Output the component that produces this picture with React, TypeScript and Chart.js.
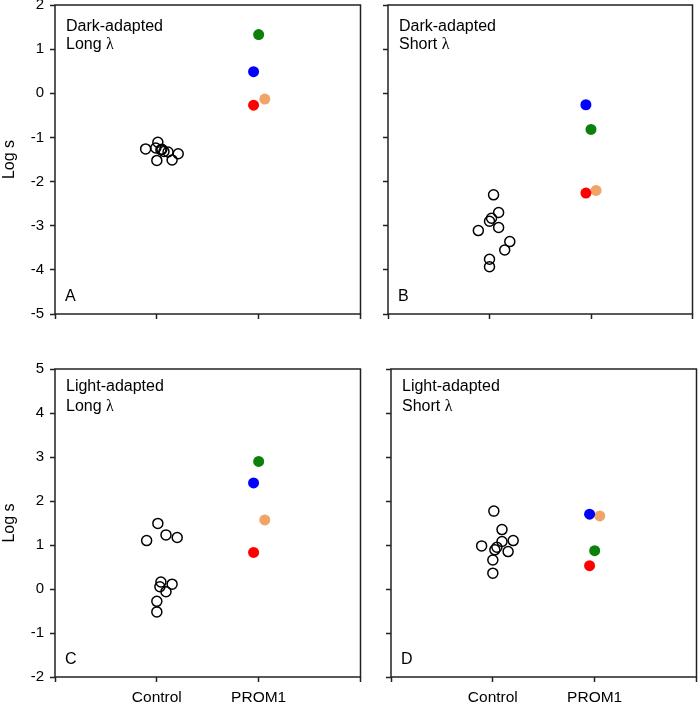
import React, { useEffect, useRef } from 'react';
import { Chart, registerables } from 'chart.js';

Chart.register(...registerables);
Chart.defaults.font.family = '"Liberation Sans", Arial, sans-serif';
Chart.defaults.color = '#000';

// ---------- data ----------
const categories = ['Control', 'PROM1'];
const prom1Colors = ['#0b800b', '#0000ff', '#ff0000', '#f0a468']; // green, blue, red, orange

// Panel A: Dark-adapted, Long λ
const ctrlAx = [0.89, 1.01, 0.99, 1.04, 1.07, 1.11, 1.21, 1.0, 1.15, 1.05];
const ctrlAy = [-1.26, -1.11, -1.24, -1.28, -1.32, -1.33, -1.37, -1.52, -1.51, -1.27];
const promAx = [2.0, 1.95, 1.95, 2.06];
const promAy = [1.33, 0.49, -0.27, -0.13];

// Panel B: Dark-adapted, Short λ
const ctrlBx = [1.04, 1.09, 1.02, 1.0, 1.09, 0.89, 1.2, 1.15, 1.0, 1.0];
const ctrlBy = [-2.3, -2.7, -2.83, -2.9, -3.04, -3.11, -3.36, -3.55, -3.76, -3.93];
const promBx = [2.0, 1.95, 1.95, 2.05];
const promBy = [-0.82, -0.26, -2.26, -2.2];

// Panel C: Light-adapted, Long λ
const ctrlCx = [1.01, 0.9, 1.09, 1.2, 1.04, 1.15, 1.03, 1.09, 1.0, 1.0];
const ctrlCy = [1.49, 1.1, 1.23, 1.17, 0.16, 0.11, 0.05, -0.06, -0.28, -0.52];
const promCx = [2.0, 1.95, 1.95, 2.06];
const promCy = [2.9, 2.41, 0.83, 1.57];

// Panel D: Light-adapted, Short λ
const ctrlDx = [1.01, 1.09, 0.89, 1.09, 1.2, 1.04, 1.02, 1.15, 1.0, 1.0];
const ctrlDy = [1.77, 1.35, 0.98, 1.08, 1.1, 0.95, 0.89, 0.85, 0.66, 0.36];
const promDx = [2.0, 1.95, 1.95, 2.05];
const promDy = [0.87, 1.7, 0.53, 1.66];

const topRange = [-5, 2];
const bottomRange = [-2, 5];
const xRange = [0, 3];

// ---------- layout ----------
const PAD_TOP = 20;
const PAD_RIGHT = 4;
const X_AXIS_H = 28;
const LINE = '#222';

type PanelCfg = {
  l: number; t: number; r: number; b: number;
  axisW: number; yLabels: boolean; xLabels: boolean;
  range: number[]; cx: number[]; cy: number[]; px: number[]; py: number[];
  line1: string; line2: string; letter: string; base1: number; gap: number;
};

const panels: PanelCfg[] = [
  { l: 55, t: 5, r: 363, b: 314, axisW: 55, yLabels: true, xLabels: false, range: topRange,
    cx: ctrlAx, cy: ctrlAy, px: promAx, py: promAy, line1: 'Dark-adapted', line2: 'Long ', letter: 'A', base1: 25.5, gap: 18.5 },
  { l: 388, t: 5, r: 695, b: 314, axisW: 20, yLabels: false, xLabels: false, range: topRange,
    cx: ctrlBx, cy: ctrlBy, px: promBx, py: promBy, line1: 'Dark-adapted', line2: 'Short ', letter: 'B', base1: 25.5, gap: 18.5 },
  { l: 55, t: 369, r: 363, b: 677, axisW: 55, yLabels: true, xLabels: true, range: bottomRange,
    cx: ctrlCx, cy: ctrlCy, px: promCx, py: promCy, line1: 'Light-adapted', line2: 'Long ', letter: 'C', base1: 22, gap: 19.5 },
  { l: 391, t: 369, r: 699, b: 677, axisW: 20, yLabels: false, xLabels: true, range: bottomRange,
    cx: ctrlDx, cy: ctrlDy, px: promDx, py: promDy, line1: 'Light-adapted', line2: 'Short ', letter: 'D', base1: 22, gap: 19.5 },
];

const framePlugin = {
  id: 'frameText',
  afterDraw(chart: any, _args: any, opts: any) {
    const { ctx, chartArea: a } = chart;
    ctx.save();
    ctx.strokeStyle = LINE;
    ctx.lineWidth = 1.5;
    ctx.strokeRect(a.left, a.top, a.right - a.left, a.bottom - a.top);
    ctx.fillStyle = '#000';
    ctx.textBaseline = 'alphabetic';
    ctx.textAlign = 'left';
    const sans = '16px "Liberation Sans", Arial, sans-serif';
    ctx.font = sans;
    const x = a.left + 11;
    ctx.fillText(opts.line1, x, a.top + opts.base1);
    const y2 = a.top + opts.base1 + opts.gap;
    ctx.fillText(opts.line2, x, y2);
    const w = ctx.measureText(opts.line2).width;
    ctx.font = '16px "Liberation Serif", "DejaVu Serif", serif';
    ctx.fillText('λ', x + w, y2);
    ctx.font = sans;
    ctx.fillText(opts.letter, a.left + 10, a.bottom - 13);
    ctx.restore();
  },
};

function Panel({ cfg }: { cfg: PanelCfg }) {
  const ref = useRef<HTMLCanvasElement | null>(null);
  const width = cfg.axisW + (cfg.r - cfg.l) + PAD_RIGHT;
  const height = PAD_TOP + (cfg.b - cfg.t) + X_AXIS_H;
  const left = cfg.l - cfg.axisW;
  const top = cfg.t - PAD_TOP;

  useEffect(() => {
    if (!ref.current) return;
    const ctrlData = cfg.cx.map((x, i) => ({ x, y: cfg.cy[i] }));
    const promSets = cfg.px.map((x, i) => ({
      data: [{ x, y: cfg.py[i] }],
      pointRadius: 5.5,
      pointHoverRadius: 5.5,
      pointBorderWidth: 0,
      backgroundColor: prom1Colors[i],
      borderColor: prom1Colors[i],
    }));
    const chart = new Chart(ref.current, {
      type: 'scatter',
      data: {
        datasets: [
          {
            data: ctrlData,
            pointRadius: 5,
            pointHoverRadius: 5,
            pointBorderWidth: 1.5,
            borderColor: '#000',
            backgroundColor: 'rgba(0,0,0,0)',
          },
          ...promSets,
        ],
      },
      options: {
        responsive: false,
        animation: false,
        devicePixelRatio: 1,
        layout: { padding: { left: 0, top: PAD_TOP, right: PAD_RIGHT, bottom: 0 } },
        plugins: {
          legend: { display: false },
          tooltip: { enabled: false },
          frameText: { line1: cfg.line1, line2: cfg.line2, letter: cfg.letter, base1: cfg.base1, gap: cfg.gap },
        } as any,
        scales: {
          x: {
            type: 'linear',
            min: xRange[0],
            max: xRange[1],
            afterFit: (s: any) => { s.height = X_AXIS_H; },
            border: { display: false },
            grid: { display: true, drawOnChartArea: false, drawTicks: true, tickLength: 5, tickColor: LINE, tickWidth: 1.5, color: LINE },
            ticks: {
              stepSize: 1,
              padding: 6,
              autoSkip: false,
              maxRotation: 0,
              font: { size: 15.5 },
              color: '#000',
              callback: (v: any) => (cfg.xLabels && v >= 1 && v <= 2 ? categories[v - 1] : ''),
            },
          },
          y: {
            type: 'linear',
            min: cfg.range[0],
            max: cfg.range[1],
            afterFit: (s: any) => { s.width = cfg.axisW; },
            border: { display: false },
            grid: { display: true, drawOnChartArea: false, drawTicks: true, tickLength: 5, tickColor: LINE, tickWidth: 1.5, color: LINE },
            title: { display: cfg.yLabels, text: 'Log s', font: { size: 16 }, padding: 0, color: '#000' },
            ticks: {
              stepSize: 1,
              padding: 6,
              font: { size: 15 },
              color: '#000',
              callback: (v: any) => (cfg.yLabels ? String(v) : ''),
            },
          },
        },
      },
      plugins: [framePlugin],
    } as any);
    return () => chart.destroy();
  }, []);

  return (
    <canvas
      ref={ref}
      width={width}
      height={height}
      style={{ position: 'absolute', left, top, width, height }}
    />
  );
}

export default function App() {
  return (
    <div style={{ position: 'absolute', left: 0, top: 0, width: 700, height: 705, overflow: 'hidden', background: '#fff' }}>
      {panels.map((p, i) => (
        <Panel key={i} cfg={p} />
      ))}
    </div>
  );
}
